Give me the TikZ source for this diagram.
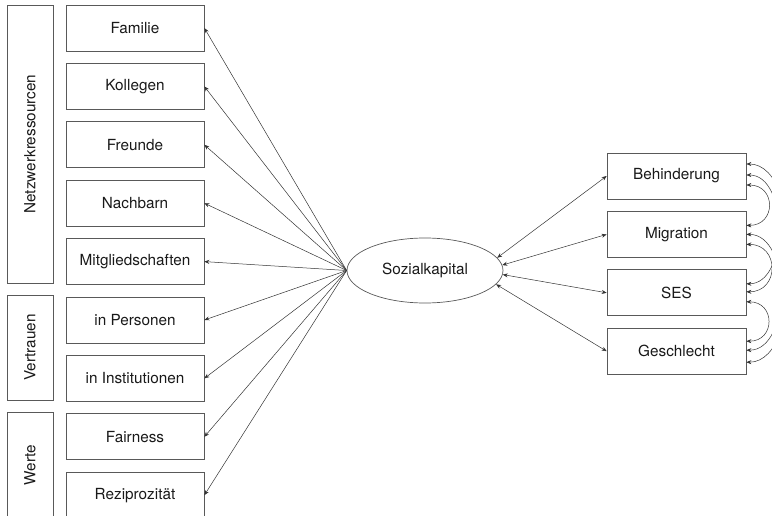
\documentclass[tikz,border=0pt]{standalone}
\usepackage{fontspec}
\setmainfont{TeX Gyre Heros}
\usetikzlibrary{shapes.geometric,arrows.meta}

\begin{document}
\begin{tikzpicture}[x=1pt, y=-1pt, >={Stealth[length=5pt,width=4pt]}, node distance=58.4pt,
    every node/.style={font=\fontsize{15.3}{18}\selectfont, text=black!90},
    ind/.style={draw=black!65, line width=0.7pt, minimum width=138pt, minimum height=46pt, inner sep=0pt},
    grp/.style={draw=black!65, line width=0.7pt, rotate=90, minimum height=46pt, inner sep=0pt},
    cov/.style={<->, line width=0.5pt, black!80}]
    \useasboundingbox (0,0) rectangle (772,516);

    % Groups
    \node (netz) [{grp, minimum width=278pt}] at (30,144) {Netzwerkressourcen};
    \node (vert) [{grp, minimum width=105pt}] at (30,347.5) {Vertrauen};
    \node (werte) [{grp, minimum width=106pt}] at (30,465) {Werte};

    % Indicators
    \node (fam) [{ind}] at (135,28) {Familie};
    \node (kol) [{ind, below of=fam}] {Kollegen};
    \node (fre) [{ind, below of=kol}] {Freunde};
    \node (nach) [{ind, below of=fre}] {Nachbarn};
    \node (mitg) [{ind, below of=nach}] {Mitgliedschaften};
    \node (pers) [{ind, below of=mitg}] {in Personen};
    \node (inst) [{ind, below of=pers}] {in Institutionen};
    \node (fair) [{ind, below of=inst}] {Fairness};
    \node (rez) [{ind, below of=fair}] {Reziprozität};

    % Latent variable
    \node (sk) [{draw=black!65, line width=0.7pt, ellipse, minimum width=156pt, minimum height=65pt, inner sep=0pt}] at (425,270.5) {Sozialkapital};

    % Covariates
    \node (beh) [{ind, minimum width=139pt}] at (676.5,176) {Behinderung};
    \node (mig) [{ind, minimum width=139pt, below of=beh}] {Migration};
    \node (ses) [{ind, minimum width=139pt, below of=mig}] {SES};
    \node (ges) [{ind, minimum width=139pt, below of=ses}] {Geschlecht};

    % Ports for the covariances
    \coordinate (beh1) at ([yshift=12pt]beh.east);
    \coordinate (beh2) at ([yshift=1pt]beh.east);
    \coordinate (beh3) at ([yshift=-9pt]beh.east);
    \coordinate (mig1) at ([yshift=9pt]mig.east);
    \coordinate (mig2) at (mig.east);
    \coordinate (mig3) at ([yshift=-10pt]mig.east);
    \coordinate (ses1) at ([yshift=9pt]ses.east);
    \coordinate (ses2) at ([yshift=1pt]ses.east);
    \coordinate (ses3) at ([yshift=-9pt]ses.east);
    \coordinate (ges1) at ([yshift=10pt]ges.east);
    \coordinate (ges2) at ([yshift=1pt]ges.east);
    \coordinate (ges3) at ([yshift=-11pt]ges.east);

    % Loadings
    \draw[->, line width=0.5pt, black!80] (sk.west) -- (fam.east);
    \draw[->, line width=0.5pt, black!80] (sk.west) -- (kol.east);
    \draw[->, line width=0.5pt, black!80] (sk.west) -- (fre.east);
    \draw[->, line width=0.5pt, black!80] (sk.west) -- (nach.east);
    \draw[->, line width=0.5pt, black!80] (sk.west) -- (mitg.east);
    \draw[->, line width=0.5pt, black!80] (sk.west) -- (pers.east);
    \draw[->, line width=0.5pt, black!80] (sk.west) -- (inst.east);
    \draw[->, line width=0.5pt, black!80] (sk.west) -- (fair.east);
    \draw[->, line width=0.5pt, black!80] (sk.west) -- (rez.east);

    % Effects of the covariates
    \draw[cov] (sk.10) -- (beh.west);
    \draw[cov] (sk.4) -- (mig.west);
    \draw[cov] (sk.-3) -- (ses.west);
    \draw[cov] (sk.-11) -- (ges.west);

    % Covariances
    \draw[cov] (beh3) to[out=0, in=0, looseness=1.9] (mig1);
    \draw[cov] (mig3) to[out=0, in=0, looseness=1.8] (ses2);
    \draw[cov] (ses3) to[out=0, in=0, looseness=1.9] (ges1);
    \draw[cov] (beh2) to[out=0, in=0, looseness=1.0] (ses1);
    \draw[cov] (mig2) to[out=0, in=0, looseness=1.0] (ges2);
    \draw[cov] (beh1) to[out=0, in=0, looseness=0.77] (ges3);

\end{tikzpicture}
\end{document}
